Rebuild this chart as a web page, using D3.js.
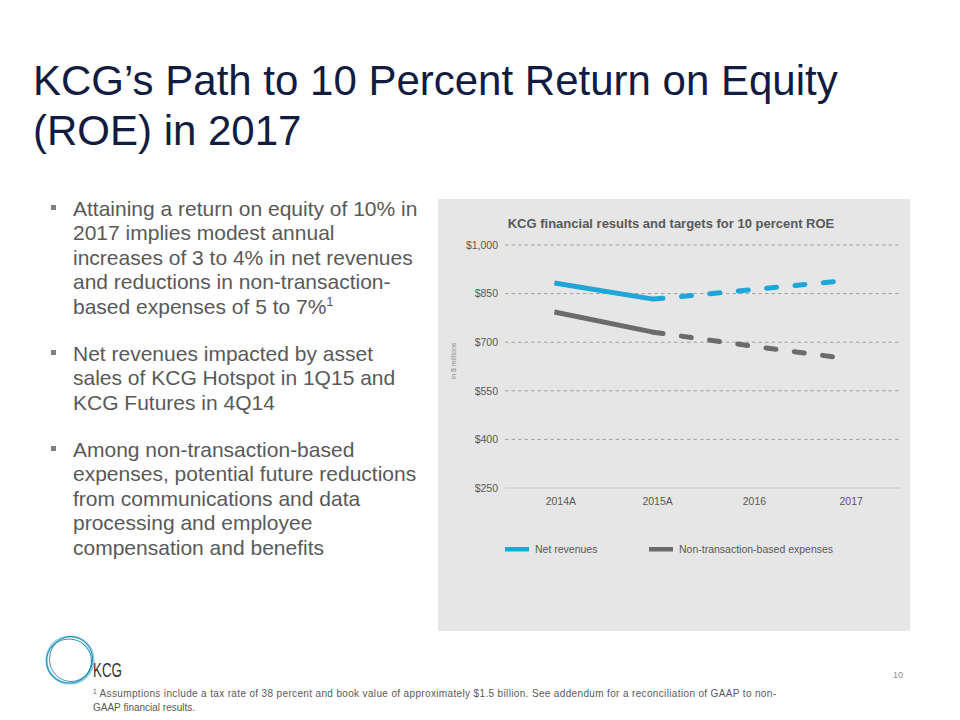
<!DOCTYPE html>
<html>
<head>
<meta charset="utf-8">
<script src="https://cdn.jsdelivr.net/npm/d3@7"></script>
<style>
  html, body { margin: 0; padding: 0; background: #ffffff; }
  svg { display: block; font-family: "Liberation Sans", Arial, sans-serif; }
</style>
</head>
<body>
<svg id="slide" width="960" height="720"></svg>
<script>
// ---- data ----
const categories = ["2014A", "2015A", "2016", "2017"];
const netRevenues = [883, 833, 862, 892];
const nonTransExpenses = [793, 731, 688, 648];
const actualCount = 2; // 2014A and 2015A are actuals (solid), rest are targets (dashed)
const yTicks = [250, 400, 550, 700, 850, 1000];
const yTickLabels = ["$250", "$400", "$550", "$700", "$850", "$1,000"];
const seriesNames = ["Net revenues", "Non-transaction-based expenses"];
const seriesColors = ["#1fa6d9", "#6b6b6b"];

const titleLines = ["KCG\u2019s Path to 10 Percent Return on Equity", "(ROE) in 2017"];
const bullets = [
  ["Attaining a return on equity of 10% in", "2017 implies modest annual", "increases of 3 to 4% in net revenues", "and reductions in non-transaction-", "based expenses of 5 to 7%"],
  ["Net revenues impacted by asset", "sales of KCG Hotspot in 1Q15 and", "KCG Futures in 4Q14"],
  ["Among non-transaction-based", "expenses, potential future reductions", "from communications and data", "processing and employee", "compensation and benefits"]
];
const chartTitle = "KCG financial results and targets for 10 percent ROE";
const footnote = ["Assumptions include a tax rate of 38 percent and book value of approximately $1.5 billion. See addendum for a reconciliation of GAAP to non-", "GAAP financial results."];

const svg = d3.select("#slide");

// ---- slide title ----
svg.append("g").selectAll("text").data(titleLines).join("text")
  .attr("x", 33).attr("y", (d, i) => 95 + i * 50)
  .attr("font-size", 42).attr("fill", "#111c40")
  .text(d => d);

// ---- bullets ----
const bg = svg.append("g");
let yb = 215.5;
bullets.forEach((lines, bi) => {
  bg.append("rect").attr("x", 51).attr("y", yb - 10.5).attr("width", 5).attr("height", 5).attr("fill", "#808080");
  lines.forEach((line, li) => {
    const t = bg.append("text").attr("x", 73).attr("y", yb)
      .attr("font-size", 21).attr("fill", "#595959").text(line);
    if (bi === 0 && li === lines.length - 1) {
      t.append("tspan").attr("font-size", 13).attr("dy", -8).text("1");
    }
    yb += 24.5;
  });
  yb += 22.5;
});

// ---- chart panel ----
svg.append("rect").attr("x", 438).attr("y", 199).attr("width", 472).attr("height", 432).attr("fill", "#e6e6e6");

const x = d3.scalePoint().domain(categories).range([505, 900]).padding(0.5);
const xLabel = d3.scalePoint().domain(categories).range([512, 899]).padding(0.5);
const y = d3.scaleLinear().domain([250, 1000]).range([488, 245]);

const chart = svg.append("g");

chart.append("text").attr("x", 671).attr("y", 228).attr("text-anchor", "middle")
  .attr("font-size", 13).attr("font-weight", "bold").attr("fill", "#595959").text(chartTitle);

// gridlines
chart.append("g").selectAll("line").data(yTicks.filter(v => v !== 250)).join("line")
  .attr("x1", 505).attr("x2", 900)
  .attr("y1", d => y(d)).attr("y2", d => y(d))
  .attr("stroke", "#a0a0a0").attr("stroke-width", 1).attr("stroke-dasharray", "3.5,3");
chart.append("line").attr("x1", 505).attr("x2", 900).attr("y1", y(250)).attr("y2", y(250))
  .attr("stroke", "#cbd3de").attr("stroke-width", 1.5);

// y axis labels
const yAxis = d3.axisLeft(y).tickValues(yTicks).tickFormat((d, i) => yTickLabels[i]).tickSize(0).tickPadding(7);
const yg = chart.append("g").attr("transform", "translate(505,0)").call(yAxis);
yg.select(".domain").remove();
yg.selectAll("text").attr("font-size", 10.5).attr("fill", "#595959").attr("font-family", "Liberation Sans, Arial, sans-serif");

// x axis labels
const xAxis = d3.axisBottom(xLabel).tickSize(0).tickPadding(10);
const xg = chart.append("g").attr("transform", `translate(0,${y(250)})`).call(xAxis);
xg.select(".domain").remove();
xg.selectAll("text").attr("font-size", 10.5).attr("fill", "#595959").attr("font-family", "Liberation Sans, Arial, sans-serif");

// y axis title
chart.append("text").attr("transform", "translate(456,361) rotate(-90)").attr("text-anchor", "middle")
  .attr("font-size", 7).attr("fill", "#8c8c8c").text("in $ millions");

// lines
const line = d3.line().x(d => x(d.c)).y(d => y(d.v));
[netRevenues, nonTransExpenses].forEach((vals, si) => {
  const pts = categories.map((c, i) => ({ c, v: vals[i] }));
  chart.append("path").datum(pts.slice(0, actualCount))
    .attr("d", line).attr("fill", "none").attr("stroke", seriesColors[si])
    .attr("stroke-width", 5).attr("stroke-linecap", "butt").attr("stroke-linejoin", "round");
  chart.append("path").datum(pts.slice(actualCount - 1))
    .attr("d", line).attr("fill", "none").attr("stroke", seriesColors[si])
    .attr("stroke-width", 5).attr("stroke-linecap", "round").attr("stroke-dasharray", "10,18.5");
});

// legend
const legendX = [505, 649];
seriesNames.forEach((n, i) => {
  chart.append("rect").attr("x", legendX[i]).attr("y", 547).attr("width", 24).attr("height", 4.5).attr("fill", seriesColors[i]);
  chart.append("text").attr("x", legendX[i] + 30).attr("y", 553).attr("font-size", 10.5).attr("fill", "#595959").text(n);
});

// ---- logo ----
const logo = svg.append("g");
logo.append("circle").attr("cx", 70).attr("cy", 660).attr("r", 23.5).attr("fill", "none").attr("stroke", "#8fd3e6").attr("stroke-width", 2.2);
logo.append("ellipse").attr("cx", 69).attr("cy", 661).attr("rx", 22.5).attr("ry", 22).attr("fill", "none").attr("stroke", "#2a98c2").attr("stroke-width", 1.2);
logo.append("ellipse").attr("cx", 71).attr("cy", 659).attr("rx", 21.5).attr("ry", 22.5).attr("fill", "none").attr("stroke", "#1a6f99").attr("stroke-width", 0.8);
logo.append("text").attr("x", 93).attr("y", 677).attr("font-size", 20).attr("fill", "#333333")
  .attr("textLength", 29).attr("lengthAdjust", "spacingAndGlyphs").text("KCG");

// page number
svg.append("text").attr("x", 903).attr("y", 678).attr("text-anchor", "end").attr("font-size", 9).attr("fill", "#8c8c8c").text("10");

// footnote
const fn = svg.append("g");
const f1 = fn.append("text").attr("x", 93).attr("y", 697).attr("font-size", 10).attr("fill", "#595959")
  .attr("textLength", 683).attr("lengthAdjust", "spacing");
f1.append("tspan").attr("font-size", 6.5).attr("dy", -3).text("1");
f1.append("tspan").attr("dy", 3).text(" " + footnote[0]);
fn.append("text").attr("x", 93).attr("y", 711).attr("font-size", 10).attr("fill", "#595959").text(footnote[1]);
</script>
</body>
</html>
